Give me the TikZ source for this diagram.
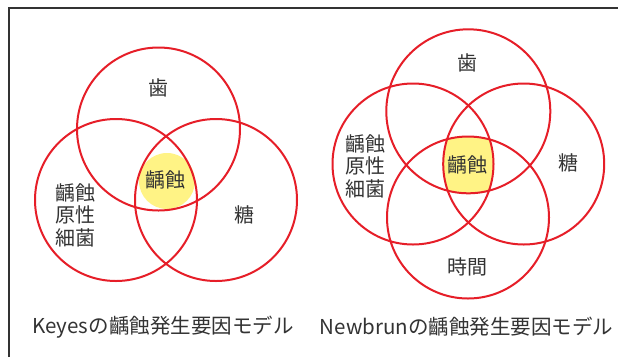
\documentclass[tikz,border=0pt]{standalone}
\usepackage{fontspec}
\setmainfont{Noto Sans CJK JP}
\definecolor{ringred}{HTML}{E61E28}
\definecolor{hiyellow}{HTML}{FFF385}
\definecolor{txt}{HTML}{333333}
\tikzset{
  ring/.style={circle, draw=ringred, line width=2pt, inner sep=0pt, outer sep=0pt},
  lbl/.style={text=txt, font=\fontsize{20}{22.5}\selectfont, inner sep=0pt, align=center},
  ttl/.style={text=txt, font=\fontsize{20.5}{24}\selectfont, inner sep=0pt},
  frameline/.style={draw=txt, line width=2pt}
}
\begin{document}
\begin{tikzpicture}[x=1pt,y=-1pt]
\useasboundingbox (0,0) rectangle (618,357);
\fill[white] (0,0) rectangle (618,357);
\draw[frameline] (9,357) -- (9,8) -- (618,8);

% ---- Keyes model ----
\fill[hiyellow] (167,181) circle (28);
\node[ring, minimum size=163pt] (kt) at (158.5,129) {};
\node[ring, minimum size=162pt] (kl) at (116,200) {};
\node[ring, minimum size=162pt] (kr) at (216,200) {};
\node[lbl] (kha) at (158,88) {歯};
\node[lbl] (kcen) at (165,180) {齲蝕};
\node[lbl] (kbac) at (75,215) {齲蝕\\原性\\細菌};
\node[lbl] (ksug) at (244,215) {糖};
\node[ttl] (ktitle) at (163,327) {Keyesの齲蝕発生要因モデル};

% ---- Newbrun model ----
\begin{scope}
  \clip (468.3,111.3) circle (82);
  \clip (413,164) circle (80.5);
  \clip (523.7,164) circle (80.5);
  \clip (468,217.5) circle (81);
  \fill[hiyellow, rounded corners=11pt] (441,136) rectangle (496,195);
\end{scope}
\node[ring, minimum size=164pt] (nt) at (468.3,111.3) {};
\node[ring, minimum size=161pt] (nl) at (413,164) {};
\node[ring, minimum size=161pt] (nr) at (523.7,164) {};
\node[ring, minimum size=162pt] (nb) at (468,217.5) {};
\node[lbl] (nha) at (467,63) {歯};
\node[lbl] (ncen) at (467,165) {齲蝕};
\node[lbl] (nbac) at (365,166) {齲蝕\\原性\\細菌};
\node[lbl] (nsug) at (568,163) {糖};
\node[lbl] (ntime) at (467,267) {時間};
\node[ttl] (ntitle) at (466.5,327) {Newbrunの齲蝕発生要因モデル};
\end{tikzpicture}
\end{document}
